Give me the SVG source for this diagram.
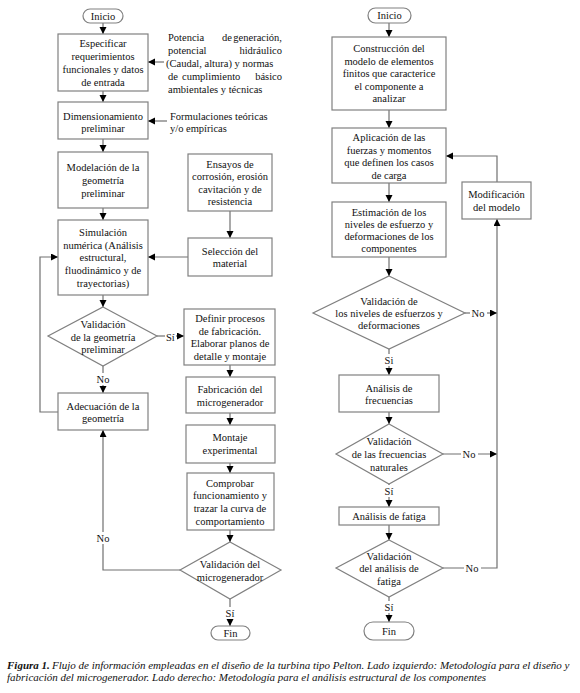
<svg xmlns="http://www.w3.org/2000/svg" width="580" height="693" viewBox="0 0 580 693">
<defs>
<marker id="ah" markerUnits="userSpaceOnUse" markerWidth="8" markerHeight="8" refX="7" refY="3.5" orient="auto">
<path d="M0,0 L7,3.5 L0,7 z" fill="#000"/>
</marker>
<style>
.b{fill:#fff;stroke:#808080;stroke-width:1.2}
.t{font-family:"Liberation Serif","Times New Roman",serif;font-size:10.5px;fill:#111;text-anchor:middle}
.s{font-family:"Liberation Serif","Times New Roman",serif;font-size:10.5px;fill:#111}
.c{fill:none;stroke:#707070;stroke-width:1.2}
.a{fill:none;stroke:#707070;stroke-width:1.2;marker-end:url(#ah)}
.lb{fill:#fff}
.cap{font-family:"Liberation Serif","Times New Roman",serif;font-size:11px;font-style:italic;fill:#111}
</style>
</defs>
<rect width="580" height="693" fill="#fff"/>

<g id="connectors">
<line class="a" x1="103" y1="23" x2="103" y2="34"/>
<line class="a" x1="103" y1="91" x2="103" y2="102"/>
<line class="a" x1="103" y1="139" x2="103" y2="152"/>
<line class="a" x1="103" y1="208" x2="103" y2="220"/>
<line class="a" x1="103" y1="295" x2="103" y2="307"/>
<line class="a" x1="164" y1="62" x2="148" y2="62"/>
<line class="a" x1="167" y1="121" x2="148" y2="121"/>
<line class="a" x1="230" y1="211" x2="230" y2="238"/>
<line class="a" x1="188" y1="257" x2="148" y2="257"/>
<line class="a" x1="157" y1="336" x2="184" y2="336"/>
<line class="a" x1="103" y1="366" x2="103" y2="393"/>
<polyline class="a" points="58,412 40,412 40,257 58,257"/>
<line class="a" x1="230" y1="365" x2="230" y2="377"/>
<line class="a" x1="230" y1="413" x2="230" y2="425"/>
<line class="a" x1="230" y1="463" x2="230" y2="473"/>
<line class="a" x1="230" y1="530" x2="230" y2="542"/>
<line class="a" x1="230" y1="599" x2="230" y2="626"/>
<polyline class="a" points="180,570 103,570 103,430"/>

<line class="a" x1="389" y1="23" x2="389" y2="37"/>
<line class="a" x1="389" y1="110" x2="389" y2="128"/>
<line class="a" x1="389" y1="183" x2="389" y2="202"/>
<line class="a" x1="389" y1="257" x2="389" y2="276"/>
<line class="a" x1="389" y1="349" x2="389" y2="375"/>
<line class="a" x1="389" y1="412" x2="389" y2="424"/>
<line class="a" x1="389" y1="484" x2="389" y2="507"/>
<line class="a" x1="389" y1="525" x2="389" y2="540"/>
<line class="a" x1="389" y1="597" x2="389" y2="622"/>
<line class="a" x1="465" y1="313" x2="497" y2="313"/>
<line class="a" x1="443" y1="454" x2="497" y2="454"/>
<polyline class="a" points="443,568 497,568 497,219"/>
<polyline class="a" points="497,182 497,156 446,156"/>

<rect class="lb" x="165" y="330" width="11" height="13"/>
<text class="s" x="166" y="340.5">Sí</text>
<rect class="lb" x="95" y="373" width="16" height="12"/>
<text class="t" x="103" y="382.5">No</text>
<rect class="lb" x="95" y="532" width="16" height="12"/>
<text class="t" x="103" y="541.5">No</text>
<rect class="lb" x="224" y="607" width="12" height="12"/>
<text class="t" x="230" y="616.5">Sí</text>

<rect class="lb" x="470" y="307" width="17" height="12"/>
<text class="t" x="478" y="316.5">No</text>
<rect class="lb" x="461" y="448" width="17" height="12"/>
<text class="t" x="469" y="457.5">No</text>
<rect class="lb" x="464" y="562" width="17" height="12"/>
<text class="t" x="472" y="571.5">No</text>
<rect class="lb" x="383" y="354" width="12" height="12"/>
<text class="t" x="389" y="363.5">Si</text>
<rect class="lb" x="383" y="485" width="12" height="12"/>
<text class="t" x="389" y="494.5">Sí</text>
<rect class="lb" x="383" y="601" width="12" height="12"/>
<text class="t" x="389" y="610.5">Sí</text>
</g>

<g id="inicio-left">
<rect class="b" x="83" y="9" width="40" height="14" rx="7"/>
<text class="t" x="103" y="19.5">Inicio</text>
</g>
<g id="especificar">
<rect class="b" x="58" y="34" width="90" height="57"/>
<text class="t" x="103" y="47">Especificar</text>
<text class="t" x="103" y="60">requerimientos</text>
<text class="t" x="103" y="73">funcionales y datos</text>
<text class="t" x="103" y="86">de entrada</text>
</g>
<g id="nota-potencia">
<text class="s" x="168" y="40.5">Potencia</text>
<text class="s" x="227" y="40.5" text-anchor="middle">de</text>
<text class="s" x="282" y="40.5" text-anchor="end">generación,</text>
<text class="s" x="168" y="53.5">potencial</text>
<text class="s" x="282" y="53.5" text-anchor="end">hidráulico</text>
<text class="s" x="166" y="66.5">(Caudal, altura) y normas</text>
<text class="s" x="168" y="79.5">de</text>
<text class="s" x="182" y="79.5">cumplimiento</text>
<text class="s" x="282" y="79.5" text-anchor="end">básico</text>
<text class="s" x="168" y="92.5">ambientales y técnicas</text>
</g>
<g id="dimensionamiento">
<rect class="b" x="58" y="102" width="90" height="37"/>
<text class="t" x="103" y="119.5">Dimensionamiento</text>
<text class="t" x="103" y="131.5">preliminar</text>
</g>
<g id="nota-formulaciones">
<text class="s" x="170" y="119.5">Formulaciones teóricas</text>
<text class="s" x="170" y="131.5">y/o empíricas</text>
</g>
<g id="modelacion">
<rect class="b" x="58" y="152" width="90" height="56"/>
<text class="t" x="103" y="170.5">Modelación de la</text>
<text class="t" x="103" y="183.5">geometría</text>
<text class="t" x="103" y="196.5">preliminar</text>
</g>
<g id="ensayos">
<rect class="b" x="188" y="154" width="84" height="57"/>
<text class="t" x="230" y="167.5">Ensayos de</text>
<text class="t" x="230" y="180">corrosión, erosión</text>
<text class="t" x="230" y="192.5">cavitación y de</text>
<text class="t" x="230" y="205">resistencia</text>
</g>
<g id="seleccion">
<rect class="b" x="188" y="238" width="84" height="38"/>
<text class="t" x="230" y="254.5">Selección del</text>
<text class="t" x="230" y="266.5">material</text>
</g>
<g id="simulacion">
<rect class="b" x="58" y="220" width="90" height="75"/>
<text class="t" x="103" y="235.5">Simulación</text>
<text class="t" x="103" y="248.5">numérica (Análisis</text>
<text class="t" x="103" y="260.5">estructural,</text>
<text class="t" x="103" y="273.5">fluodinámico y de</text>
<text class="t" x="103" y="286.5">trayectorias)</text>
</g>
<g id="validacion-geometria">
<polygon class="b" points="103,307 157,336 103,366 48,336"/>
<text class="t" x="103" y="327.5">Validación</text>
<text class="t" x="103" y="340.5">de la geometría</text>
<text class="t" x="103" y="352.5">preliminar</text>
</g>
<g id="definir">
<rect class="b" x="184" y="309" width="91" height="56"/>
<text class="t" x="230" y="321.5">Definir procesos</text>
<text class="t" x="230" y="334.5">de fabricación.</text>
<text class="t" x="230" y="346.5">Elaborar planos de</text>
<text class="t" x="230" y="359.5">detalle y montaje</text>
</g>
<g id="adecuacion">
<rect class="b" x="58" y="393" width="90" height="37"/>
<text class="t" x="103" y="409.5">Adecuación de la</text>
<text class="t" x="103" y="421.5">geometría</text>
</g>
<g id="fabricacion">
<rect class="b" x="186" y="377" width="89" height="36"/>
<text class="t" x="230" y="392.5">Fabricación del</text>
<text class="t" x="230" y="405.5">microgenerador</text>
</g>
<g id="montaje">
<rect class="b" x="186" y="425" width="89" height="38"/>
<text class="t" x="230" y="440.5">Montaje</text>
<text class="t" x="230" y="453.5">experimental</text>
</g>
<g id="comprobar">
<rect class="b" x="187" y="473" width="87" height="57"/>
<text class="t" x="230" y="486.5">Comprobar</text>
<text class="t" x="230" y="498.5">funcionamiento y</text>
<text class="t" x="230" y="511.5">trazar la curva de</text>
<text class="t" x="230" y="524.5">comportamiento</text>
</g>
<g id="validacion-microgenerador">
<polygon class="b" points="230,542 281,570 230,599 180,570"/>
<text class="t" x="230" y="567.5">Validación del</text>
<text class="t" x="230" y="580.5">microgenerador</text>
</g>
<g id="fin-left">
<rect class="b" x="211" y="626" width="39" height="14" rx="7"/>
<text class="t" x="230.5" y="636.5">Fin</text>
</g>

<g id="inicio-right">
<rect class="b" x="368" y="8" width="43" height="15" rx="7.5"/>
<text class="t" x="389.5" y="19">Inicio</text>
</g>
<g id="construccion">
<rect class="b" x="332" y="37" width="114" height="73"/>
<text class="t" x="389" y="52">Construcción del</text>
<text class="t" x="389" y="64.5">modelo de elementos</text>
<text class="t" x="389" y="77">finitos que caracterice</text>
<text class="t" x="389" y="89.5">el componente a</text>
<text class="t" x="389" y="102">analizar</text>
</g>
<g id="aplicacion">
<rect class="b" x="332" y="128" width="114" height="55"/>
<text class="t" x="389" y="141">Aplicación de las</text>
<text class="t" x="389" y="153.5">fuerzas y momentos</text>
<text class="t" x="389" y="166">que definen los casos</text>
<text class="t" x="389" y="178.5">de carga</text>
</g>
<g id="modificacion">
<rect class="b" x="462" y="182" width="69" height="37"/>
<text class="t" x="496.5" y="197.5">Modificación</text>
<text class="t" x="496.5" y="210.5">del modelo</text>
</g>
<g id="estimacion">
<rect class="b" x="332" y="202" width="114" height="55"/>
<text class="t" x="389" y="216">Estimación de los</text>
<text class="t" x="389" y="228">niveles de esfuerzo y</text>
<text class="t" x="389" y="240">deformaciones de los</text>
<text class="t" x="389" y="252">componentes</text>
</g>
<g id="validacion-esfuerzos">
<polygon class="b" points="389,276 465,313 389,349 313,313"/>
<text class="t" x="389" y="304.5">Validación de</text>
<text class="t" x="389" y="316.5">los niveles de esfuerzos y</text>
<text class="t" x="389" y="328.5">deformaciones</text>
</g>
<g id="frecuencias">
<rect class="b" x="339" y="375" width="100" height="37"/>
<text class="t" x="389" y="391.5">Análisis de</text>
<text class="t" x="389" y="403.5">frecuencias</text>
</g>
<g id="validacion-frecuencias">
<polygon class="b" points="389,424 443,454 389,484 336,454"/>
<text class="t" x="389" y="444.5">Validación</text>
<text class="t" x="389" y="457.5">de las frecuencias</text>
<text class="t" x="389" y="470.5">naturales</text>
</g>
<g id="fatiga">
<rect class="b" x="339" y="507" width="100" height="18"/>
<text class="t" x="389" y="519.5">Análisis de fatiga</text>
</g>
<g id="validacion-fatiga">
<polygon class="b" points="389,540 443,568 389,597 336,568"/>
<text class="t" x="389" y="559.5">Validación</text>
<text class="t" x="389" y="571.5">del análisis de</text>
<text class="t" x="389" y="584.5">fatiga</text>
</g>
<g id="fin-right">
<rect class="b" x="364" y="622" width="50" height="18" rx="9"/>
<text class="t" x="389" y="634.5">Fin</text>
</g>

<g id="caption">
<text class="cap" x="7" y="668.5" font-weight="bold">Figura 1.</text>
<text class="cap" x="52" y="668.5">Flujo de información empleadas en el diseño de la turbina tipo Pelton. Lado izquierdo: Metodología para el diseño y</text>
<text class="cap" x="7" y="681">fabricación del microgenerador. Lado derecho: Metodología para el análisis estructural de los componentes</text>
</g>
</svg>
